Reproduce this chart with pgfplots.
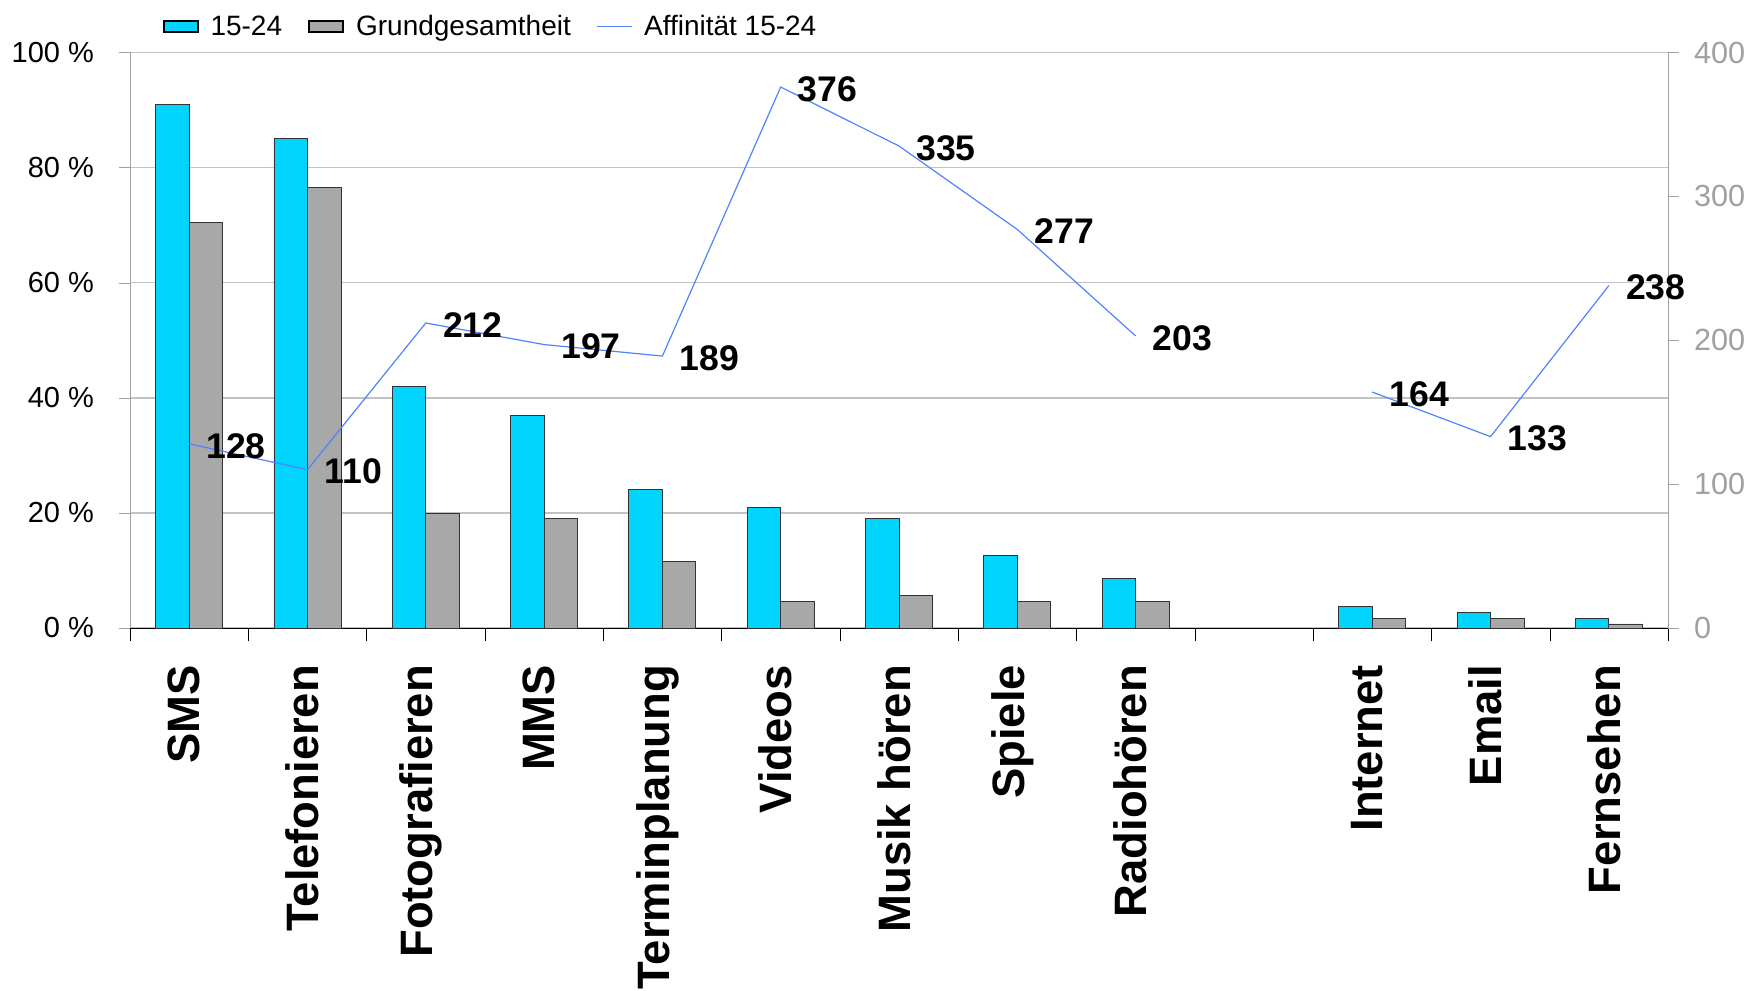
\documentclass[border=0pt]{standalone}
\usepackage{fontspec}
\setmainfont{Liberation Sans}
\usepackage{pgfplots}
\pgfplotsset{compat=1.18}
\definecolor{cyanbar}{RGB}{0,212,255}
\definecolor{greybar}{RGB}{168,168,168}
\definecolor{affline}{RGB}{80,130,255}
\definecolor{gridgrey}{RGB}{195,195,195}
\definecolor{axisgrey}{RGB}{160,160,160}
\begin{document}
\begin{tikzpicture}
\begin{axis}[
 scale only axis, width=769bp, height=287.75bp,
 xmin=-0.5, xmax=12.5, ymin=0, ymax=100,
 ybar, bar width=16.75bp,
 axis x line*=bottom, axis y line*=left,
 x axis line style={black, -}, y axis line style={axisgrey, -},
 xtick={0,...,12},
 xticklabels={SMS, Telefonieren, Fotografieren, MMS, Terminplanung, Videos, Musik hören, Spiele, Radiohören, {}, Internet, Email, Fernsehen},
 major x tick style={draw=none},
 minor xtick={-0.5,0.5,...,12.5},
 minor x tick style={black},
 minor tick length=6.7bp,
 tick align=outside,
 major tick length=5.5bp,
 xticklabel style={rotate=90, anchor=east, font=\fontsize{22.7bp}{25bp}\selectfont\bfseries, xshift=-9.5bp, yshift=2.5bp},
 ytick={0,20,...,100},
 yticklabels={0 \%, 20 \%, 40 \%, 60 \%, 80 \%, 100 \%},
 ytick style={axisgrey},
 yticklabel style={font=\fontsize{14.5bp}{17bp}\selectfont, xshift=-9bp},
 ymajorgrids, grid style={gridgrey, line width=0.8pt},
]
\addplot[fill=cyanbar, draw=black!80, bar shift=-8.375bp] coordinates {
 (0,91) (1,85) (2,42) (3,37) (4,24) (5,21) (6,19) (7,12.6) (8,8.6) (10,3.7) (11,2.7) (12,1.7)};
\addplot[fill=greybar, draw=black!80, bar shift=8.375bp] coordinates {
 (0,70.5) (1,76.5) (2,20) (3,19) (4,11.5) (5,4.6) (6,5.6) (7,4.6) (8,4.6) (10,1.7) (11,1.7) (12,0.7)};
\end{axis}
\begin{axis}[
 scale only axis, width=769bp, height=287.75bp,
 xmin=-0.5, xmax=12.5, ymin=0, ymax=400,
 axis y line*=right, axis x line=none,
 y axis line style={axisgrey, -},
 ytick={0,100,...,400},
 ytick style={axisgrey},
 tick align=outside, major tick length=5.5bp,
 yticklabel style={font=\fontsize{15.3bp}{18bp}\selectfont, text=axisgrey, xshift=4bp},
 /pgf/number format/assume math mode=true,
 unbounded coords=jump,
 legend columns=3,
 legend style={draw=none, fill=none, at={(0.235,1.01)}, anchor=south, font=\fontsize{14bp}{16bp}\selectfont,
   /tikz/every even column/.append style={column sep=11bp},
   /tikz/every odd column/.append style={column sep=4bp}},
]
\addlegendimage{area legend, fill=cyanbar, draw=black, line width=1pt}
\addlegendentry{15-24}
\addlegendimage{area legend, fill=greybar, draw=black, line width=1pt}
\addlegendentry{Grundgesamtheit}
\addplot[affline, line width=0.6pt, mark=none, nodes near coords,
 nodes near coords style={anchor=west, xshift=5bp, yshift=-1bp, text=black, font=\fontsize{17.8bp}{20bp}\selectfont\bfseries}]
 coordinates {(0,128) (1,110) (2,212) (3,197) (4,189) (5,376) (6,335) (7,277) (8,203) (9,nan) (10,164) (11,133) (12,238)};
\addlegendentry{Affinität 15-24}
\end{axis}
\pgfresetboundingbox
\path (-65bp,-181.5bp) rectangle (810.5bp,314bp);
\end{tikzpicture}
\end{document}
